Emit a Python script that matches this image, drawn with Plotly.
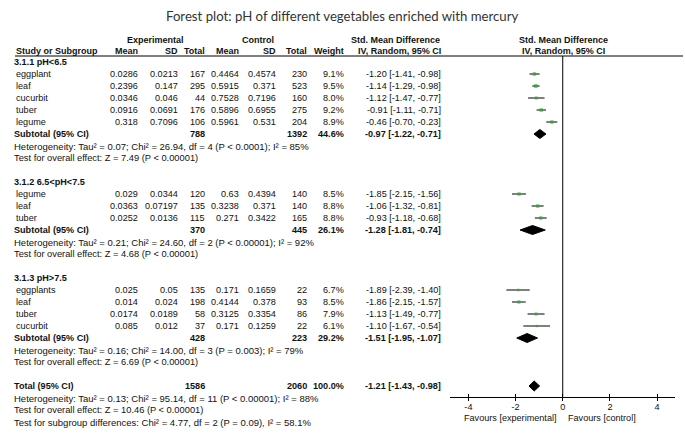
import plotly.graph_objects as go

# ---------------- data ----------------
title_text = "Forest plot: pH of different vegetables enriched with mercury"
group_titles = ["3.1.1 pH<6.5", "3.1.2 6.5<pH<7.5", "3.1.3 pH>7.5"]

studies = ["eggplant", "leaf", "cucurbit", "tuber", "legume",
           "legume", "leaf", "tuber",
           "eggplants", "leaf", "tuber", "cucurbit"]
study_group = [0, 0, 0, 0, 0, 1, 1, 1, 2, 2, 2, 2]
exp_mean = [0.0286, 0.2396, 0.0346, 0.0916, 0.318, 0.029, 0.0363, 0.0252, 0.025, 0.014, 0.0174, 0.085]
exp_sd = [0.0213, 0.147, 0.046, 0.0691, 0.7096, 0.0344, 0.07197, 0.0136, 0.05, 0.024, 0.0189, 0.012]
exp_n = [167, 295, 44, 176, 106, 120, 135, 115, 135, 198, 58, 37]
ctl_mean = [0.4464, 0.5915, 0.7528, 0.5896, 0.5961, 0.63, 0.3238, 0.271, 0.171, 0.4144, 0.3125, 0.171]
ctl_sd = [0.4574, 0.371, 0.7196, 0.6955, 0.531, 0.4394, 0.371, 0.3422, 0.1659, 0.378, 0.3354, 0.1259]
ctl_n = [230, 523, 160, 275, 204, 140, 140, 165, 22, 93, 86, 22]
weight = [9.1, 9.5, 8.0, 9.2, 8.9, 8.5, 8.8, 8.8, 6.7, 8.5, 7.9, 6.1]
smd = [-1.20, -1.14, -1.12, -0.91, -0.46, -1.85, -1.06, -0.93, -1.89, -1.86, -1.13, -1.10]
smd_lo = [-1.41, -1.29, -1.47, -1.11, -0.70, -2.15, -1.32, -1.18, -2.39, -2.15, -1.49, -1.67]
smd_hi = [-0.98, -0.98, -0.77, -0.71, -0.23, -1.56, -0.81, -0.68, -1.40, -1.57, -0.77, -0.54]

sub_exp_n = [788, 370, 428]
sub_ctl_n = [1392, 445, 223]
sub_weight = [44.6, 26.1, 29.2]
sub_smd = [-0.97, -1.28, -1.51]
sub_lo = [-1.22, -1.81, -1.95]
sub_hi = [-0.71, -0.74, -1.07]
sub_het = ["Heterogeneity: Tau² = 0.07; Chi² = 26.94, df = 4 (P < 0.0001); I² = 85%",
           "Heterogeneity: Tau² = 0.21; Chi² = 24.60, df = 2 (P < 0.00001); I² = 92%",
           "Heterogeneity: Tau² = 0.16; Chi² = 14.00, df = 3 (P = 0.003); I² = 79%"]
sub_test = ["Test for overall effect: Z = 7.49 (P < 0.00001)",
            "Test for overall effect: Z = 4.68 (P < 0.00001)",
            "Test for overall effect: Z = 6.69 (P < 0.00001)"]

total_exp_n = 1586
total_ctl_n = 2060
total_weight = 100.0
total_smd = -1.21
total_lo = -1.43
total_hi = -0.98
total_het = "Heterogeneity: Tau² = 0.13; Chi² = 95.14, df = 11 (P < 0.00001); I² = 88%"
total_test = "Test for overall effect: Z = 10.46 (P < 0.00001)"
subgroup_test = "Test for subgroup differences: Chi² = 4.77, df = 2 (P = 0.09), I² = 58.1%"

header_top = ["Experimental", "Control", "Std. Mean Difference", "Std. Mean Difference"]
header_cols = ["Mean", "SD", "Total", "Mean", "SD", "Total", "Weight", "IV, Random, 95% CI"]
axis_ticks = [-4, -2, 0, 2, 4]
favours = ["Favours [experimental]", "Favours [control]"]

# ---------------- layout constants ----------------
W, H = 685, 433
ROW0, PITCH = 62, 12
FONT = "Liberation Sans, Arial, sans-serif"
FS = 9.1          # numbers / labels
FS_NOTE = 9.5     # heterogeneity lines
FS_TEST = 9.3     # test-for-effect lines
col_right = [139, 179, 206, 240, 277, 308, 345, 442]   # right edges of numeric columns (px)
X_LABEL, X_STUDY = 13, 15
AX_L, AX_R, AX_Y = 450, 675, 397
GREEN = "#2aa52a"
TXT = "#111111"

def row_y(i):
    return ROW0 + PITCH * i

annotations = []

def txt(x, y, s, anchor="left", bold=False, size=FS, color=TXT):
    annotations.append(dict(
        x=x / W, y=y, xref="paper", yref="y", text=("<b>%s</b>" % s) if bold else s,
        showarrow=False, xanchor=anchor, yanchor="middle",
        font=dict(family=FONT, size=size, color=color), borderpad=0))

def fmt_ci(m, lo, hi):
    return "%.2f [%.2f, %.2f]" % (m, lo, hi)

# title
annotations.append(dict(x=0.5, y=16, xref="paper", yref="y", text=title_text,
                        showarrow=False, xanchor="center", yanchor="middle",
                        font=dict(family="Lato, Open Sans, sans-serif", size=13.2, color="#333")))

# headers
HB = 9
txt(155, 40, header_top[0], "center", True, HB)
txt(258, 40, header_top[1], "center", True, HB)
txt(395, 40, header_top[2], "center", True, HB)
txt(563, 40, header_top[3], "center", True, HB)
txt(X_STUDY, 51, "Study or Subgroup", "left", True, HB)
for c, s in zip(col_right, header_cols):
    txt(c, 51, s, "right", True, HB)
txt(563, 51, header_cols[-1], "center", True, HB)

# body
study_rows, sub_rows = [], []
r = 0
for g, gt in enumerate(group_titles):
    txt(X_LABEL, row_y(r), gt, "left", True)
    r += 1
    for i, s in enumerate(studies):
        if study_group[i] != g:
            continue
        y = row_y(r)
        study_rows.append(y)
        txt(X_STUDY, y, s)
        vals = [str(exp_mean[i]), str(exp_sd[i]), str(exp_n[i]), str(ctl_mean[i]),
                str(ctl_sd[i]), str(ctl_n[i]), "%.1f%%" % weight[i], fmt_ci(smd[i], smd_lo[i], smd_hi[i])]
        for c, v in zip(col_right, vals):
            txt(c, y, v, "right")
        r += 1
    y = row_y(r)
    sub_rows.append(y)
    txt(X_LABEL, y, "Subtotal (95% CI)", "left", True)
    txt(col_right[2], y, str(sub_exp_n[g]), "right", True)
    txt(col_right[5], y, str(sub_ctl_n[g]), "right", True)
    txt(col_right[6], y, "%.1f%%" % sub_weight[g], "right", True)
    txt(col_right[7], y, fmt_ci(sub_smd[g], sub_lo[g], sub_hi[g]), "right", True)
    txt(X_LABEL, row_y(r + 1), sub_het[g], size=FS_NOTE)
    txt(X_LABEL, row_y(r + 2), sub_test[g], size=FS_TEST)
    r += 4

ty = row_y(r)
txt(X_LABEL, ty, "Total (95% CI)", "left", True)
txt(col_right[2], ty, str(total_exp_n), "right", True)
txt(col_right[5], ty, str(total_ctl_n), "right", True)
txt(col_right[6], ty, "%.1f%%" % total_weight, "right", True)
txt(col_right[7], ty, fmt_ci(total_smd, total_lo, total_hi), "right", True)
txt(X_LABEL, row_y(r + 1), total_het, size=FS_NOTE)
txt(X_LABEL, row_y(r + 2), total_test, size=FS_TEST)
txt(X_LABEL, row_y(r + 3), subgroup_test, size=FS_NOTE)

# favours labels
annotations.append(dict(x=0, y=418, xref="x", yref="y", text=favours[0], showarrow=False,
                        xanchor="right", yanchor="middle", xshift=-4,
                        font=dict(family=FONT, size=FS, color=TXT)))
annotations.append(dict(x=0, y=418, xref="x", yref="y", text=favours[1], showarrow=False,
                        xanchor="left", yanchor="middle", xshift=3,
                        font=dict(family=FONT, size=FS, color=TXT)))

fig = go.Figure()

# study CIs + squares
fig.add_trace(go.Scatter(
    x=smd, y=study_rows, mode="markers",
    marker=dict(symbol="square", color=GREEN, size=[w * 0.38 for w in weight], line=dict(width=0)),
    error_x=dict(type="data", symmetric=False,
                 array=[h - m for h, m in zip(smd_hi, smd)],
                 arrayminus=[m - l for m, l in zip(smd, smd_lo)],
                 width=0, thickness=1, color="black"),
    hoverinfo="skip", showlegend=False, cliponaxis=False))

# diamonds
def diamond(m, lo, hi, y, h):
    fig.add_trace(go.Scatter(
        x=[lo, m, hi, m, lo], y=[y, y - h, y, y + h, y], mode="lines",
        fill="toself", fillcolor="black", line=dict(color="black", width=1),
        hoverinfo="skip", showlegend=False))

for g in range(len(group_titles)):
    diamond(sub_smd[g], sub_lo[g], sub_hi[g], sub_rows[g], 4.5)
diamond(total_smd, total_lo, total_hi, ty, 5)

# invisible trace for the overlay tick axis
fig.add_trace(go.Scatter(x=[0], y=[-100], xaxis="x2", mode="markers",
                         marker=dict(opacity=0), hoverinfo="skip", showlegend=False))

xr = [-4.78, 4.76]
tick_text = [str(t) for t in axis_ticks]
fig.update_layout(
    width=W, height=H, margin=dict(l=0, r=0, t=0, b=0), autosize=False,
    paper_bgcolor="white", plot_bgcolor="rgba(0,0,0,0)",
    xaxis=dict(domain=[AX_L / W, AX_R / W], range=xr, anchor="free", position=(H - AX_Y) / H,
               showgrid=False, zeroline=False, showline=True, linecolor="black", linewidth=1,
               ticks="outside", ticklen=3, tickcolor="black", tickvals=axis_ticks, ticktext=tick_text,
               ticklabelstandoff=-2,
               tickfont=dict(family=FONT, size=FS, color=TXT)),
    xaxis2=dict(domain=[AX_L / W, AX_R / W], range=xr, anchor="free", position=(H - AX_Y) / H,
                overlaying="x", showgrid=False, zeroline=False, showline=False,
                ticks="inside", ticklen=3, tickcolor="black", tickvals=axis_ticks,
                showticklabels=False),
    yaxis=dict(domain=[0, 1], range=[H, 0], visible=False, showgrid=False, zeroline=False),
    annotations=annotations,
    shapes=[
        dict(type="line", xref="paper", yref="y", x0=15 / W, x1=683 / W, y0=56, y1=56,
             line=dict(color="black", width=1)),
        dict(type="line", xref="x", yref="y", x0=0, x1=0, y0=56, y1=AX_Y,
             line=dict(color="black", width=1)),
    ],
)

fig.write_html("out.html", config={"displayModeBar": False},
               post_script="document.body.style.margin='0';document.body.style.padding='0';")
